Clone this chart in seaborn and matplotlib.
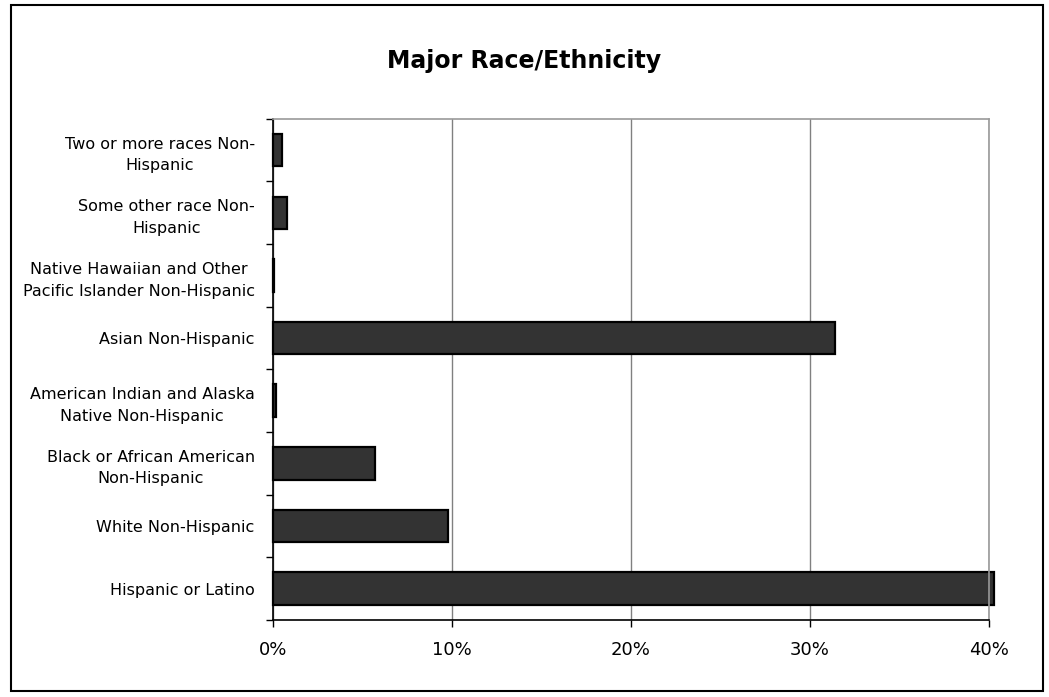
import pandas as pd
import matplotlib.pyplot as plt
import seaborn as sns
from matplotlib.patches import Rectangle
from matplotlib.ticker import PercentFormatter, FixedLocator

# Categories listed top to bottom as they appear on the chart
categories = [
    'Two or more races Non-\nHispanic',
    'Some other race Non-\nHispanic',
    'Native Hawaiian and Other\nPacific Islander Non-Hispanic',
    'Asian Non-Hispanic',
    'American Indian and Alaska\nNative Non-Hispanic',
    'Black or African American\nNon-Hispanic',
    'White Non-Hispanic',
    'Hispanic or Latino',
]
share_pct = [0.54, 0.82, 0.05, 31.4, 0.18, 5.7, 9.8, 40.3]
x_ticks = [0, 10, 20, 30, 40]

df = pd.DataFrame({'group': categories, 'share': share_pct})

sns.set_style('white')
plt.rcParams['font.family'] = ['DejaVu Sans']
plt.rcParams['text.color'] = 'black'
plt.rcParams['xtick.color'] = 'black'
plt.rcParams['ytick.color'] = 'black'

fig = plt.figure(figsize=(10.49, 6.97), dpi=100)
ax = fig.add_axes([0.26, 0.1105, 0.6828, 0.719])

sns.barplot(data=df, x='share', y='group', order=categories, orient='h',
            color='#333333', saturation=1, width=0.52,
            edgecolor='black', linewidth=1.6, ax=ax)

# bar for Hispanic goes a little past the 40% line in the original
for p in ax.patches:
    p.set_clip_on(False)

ax.set_xlim(0, 40)
ax.set_ylim(len(categories) - 0.5, -0.5)
ax.xaxis.set_major_locator(FixedLocator(x_ticks))
ax.xaxis.set_major_formatter(PercentFormatter(decimals=0))
ax.grid(axis='x', color='#808080', linewidth=1.0)
ax.set_axisbelow(True)

ax.set_xlabel('')
ax.set_ylabel('')

# y ticks sit on the category boundaries
ax.yaxis.set_minor_locator(FixedLocator([i - 0.5 for i in range(len(categories) + 1)]))
ax.tick_params(axis='y', which='major', length=0, pad=13, labelsize=11.5)
ax.tick_params(axis='y', which='minor', length=5, width=1, color='black', left=True)
ax.tick_params(axis='x', which='major', length=5, width=1, color='black',
               bottom=True, pad=10, labelsize=13)
for lbl in ax.get_yticklabels():
    lbl.set_horizontalalignment('right')
    lbl.set_multialignment('center')
    lbl.set_linespacing(1.55)

for side in ['left', 'bottom']:
    ax.spines[side].set_color('black')
    ax.spines[side].set_linewidth(1.2)
for side in ['top', 'right']:
    ax.spines[side].set_color('#9a9a9a')
    ax.spines[side].set_linewidth(1.2)

fig.text(0.5, 0.912, 'Major Race/Ethnicity', ha='center', va='center',
         fontsize=17, fontweight='bold', color='black')

# outer chart frame
fig.patches.append(Rectangle((11 / 1049, 1 - 691 / 697), (1043 - 11) / 1049, (691 - 5) / 697,
                             transform=fig.transFigure, fill=False,
                             edgecolor='black', linewidth=1.5))

plt.savefig('out.png', dpi=100)
